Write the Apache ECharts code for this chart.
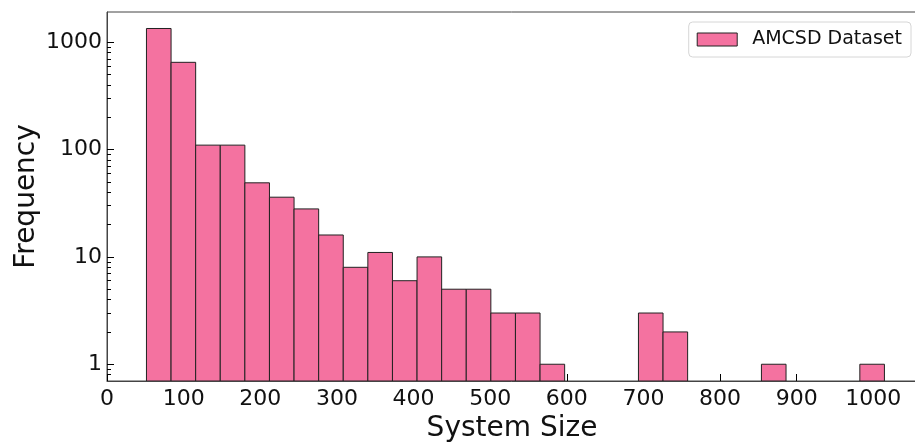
<!DOCTYPE html>
<html>
<head>
<meta charset="utf-8">
<script src="https://cdn.jsdelivr.net/npm/echarts@6/dist/echarts.min.js"></script>
<style>
html,body{margin:0;padding:0;background:#fff;}
#chart{width:915px;height:444px;}
</style>
</head>
<body>
<div id="chart"></div>
<script>
// Histogram bin edges (System Size) and counts per bin
const binEdges = [51.5, 83.6, 115.7, 147.8, 179.9, 212.0, 244.1, 276.2, 308.3, 340.4, 372.5,
  404.6, 436.7, 468.8, 500.9, 533.0, 565.1, 597.2, 629.3, 661.4, 693.5,
  725.6, 757.7, 789.8, 821.9, 854.0, 886.1, 918.2, 950.3, 982.4, 1014.5];
const counts = [1343, 650, 110, 110, 49, 36, 28, 16, 8, 11, 6, 10, 5, 5, 3, 3, 1,
  0, 0, 0, 3, 2, 0, 0, 0, 1, 0, 0, 0, 1];
const seriesName = 'AMCSD Dataset';
const xTicks = [0, 100, 200, 300, 400, 500, 600, 700, 800, 900, 1000];
const yMajorTicks = [1, 10, 100, 1000];
const yMinorTicks = [0.8, 0.9, 2, 3, 4, 5, 6, 7, 8, 9, 20, 30, 40, 50, 60, 70, 80, 90,
  200, 300, 400, 500, 600, 700, 800, 900];

const X_MIN = 0, X_MAX = 1057;
const Y_MIN = 0.698, Y_MAX = 1913;
const BAR_COLOR = '#F472A0';
const EDGE_COLOR = '#222222';
const FONT = 'DejaVu Sans';

const histData = [];
counts.forEach((c, i) => {
  if (c > 0) histData.push([binEdges[i], binEdges[i + 1], c]);
});

function renderItem(params, api) {
  const x0 = api.value(0), x1 = api.value(1), c = api.value(2);
  const pTop = api.coord([x0, c]);
  const pBot = api.coord([x1, Y_MIN]);
  return {
    type: 'rect',
    shape: { x: pTop[0], y: pTop[1], width: pBot[0] - pTop[0], height: pBot[1] - pTop[1] },
    style: { fill: BAR_COLOR, stroke: EDGE_COLOR, lineWidth: 1 }
  };
}

// decorative tick axes work in log10 space so tick positions match the log axis
const lg = v => Math.log10(v);

const chart = echarts.init(document.getElementById('chart'), null, { renderer: 'canvas' });
chart.setOption({
  animation: false,
  backgroundColor: '#fff',
  textStyle: { fontFamily: FONT },
  grid: {
    left: 107, right: -2, top: 12, bottom: 63,
    containLabel: false, outerBoundsMode: 'none',
    show: true, borderColor: '#444', borderWidth: 1, backgroundColor: 'transparent'
  },
  legend: {
    right: 4, top: 22,
    orient: 'horizontal',
    padding: [8, 9, 8, 8],
    backgroundColor: '#fff',
    borderColor: '#d6d6d6', borderWidth: 1, borderRadius: 4,
    itemWidth: 40, itemHeight: 13,
    textStyle: { fontFamily: FONT, fontSize: 19, color: '#111', padding: [0, 0, 0, 10] },
    data: [{ name: seriesName, icon: 'rect',
      itemStyle: { color: BAR_COLOR, borderColor: EDGE_COLOR, borderWidth: 1 } }]
  },
  xAxis: {
    type: 'value', min: X_MIN, max: X_MAX,
    name: 'System Size', nameLocation: 'middle', nameGap: 34,
    nameTextStyle: { fontFamily: FONT, fontSize: 28, color: '#111' },
    axisLine: { show: true, onZero: false, lineStyle: { color: '#444', width: 1 } },
    axisTick: { show: true, inside: true, length: 7, customValues: xTicks, lineStyle: { color: '#000', width: 1 } },
    axisLabel: { customValues: xTicks, fontFamily: FONT, fontSize: 22, color: '#111', margin: 7,
      formatter: v => String(Math.round(v)) },
    splitLine: { show: false }
  },
  yAxis: [{
    type: 'log', logBase: 10, min: Y_MIN, max: Y_MAX,
    name: 'Frequency', nameLocation: 'middle', nameGap: 66,
    nameTextStyle: { fontFamily: FONT, fontSize: 28, color: '#111' },
    axisLine: { show: true, onZero: false, lineStyle: { color: '#444', width: 1 } },
    axisTick: { show: false },
    axisLabel: { show: false },
    splitLine: { show: false },
    minorTick: { show: false }
  }, {
    type: 'value', min: lg(Y_MIN), max: lg(Y_MAX), position: 'left', offset: 0,
    axisLine: { show: false, onZero: false },
    axisTick: { show: true, inside: true, length: 7, customValues: yMajorTicks.map(lg),
      lineStyle: { color: '#000', width: 1 } },
    axisLabel: { show: true, customValues: yMajorTicks.map(lg), fontFamily: FONT, fontSize: 22,
      color: '#111', margin: 5, formatter: v => String(Math.round(Math.pow(10, v))) },
    splitLine: { show: false }
  }, {
    type: 'value', min: lg(Y_MIN), max: lg(Y_MAX), position: 'left', offset: 0,
    axisLine: { show: false, onZero: false },
    axisTick: { show: true, inside: true, length: 4, customValues: yMinorTicks.map(lg),
      lineStyle: { color: '#000', width: 1 } },
    axisLabel: { show: false },
    splitLine: { show: false }
  }],
  series: [{
    type: 'custom',
    name: seriesName,
    renderItem: renderItem,
    clip: true,
    itemStyle: { color: BAR_COLOR, borderColor: EDGE_COLOR, borderWidth: 1 },
    encode: { x: [0, 1], y: 2 },
    data: histData
  }]
});
</script>
</body>
</html>
